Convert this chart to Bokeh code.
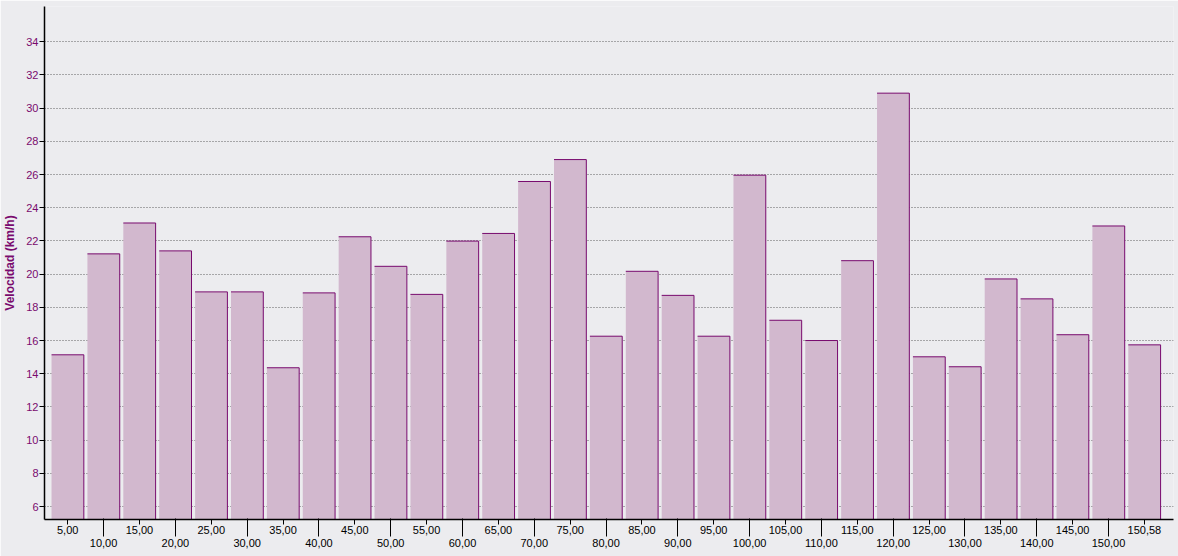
from bokeh.plotting import figure
from bokeh.models import FixedTicker, LinearAxis, Range1d
from bokeh.embed import file_html
from bokeh.resources import INLINE

# ---- data ----
distance_labels = ["5,00", "10,00", "15,00", "20,00", "25,00", "30,00", "35,00", "40,00",
                   "45,00", "50,00", "55,00", "60,00", "65,00", "70,00", "75,00", "80,00",
                   "85,00", "90,00", "95,00", "100,00", "105,00", "110,00", "115,00", "120,00",
                   "125,00", "130,00", "135,00", "140,00", "145,00", "150,00", "150,58"]
speeds = [15.14, 21.22, 23.08, 21.40, 18.93, 18.93, 14.36, 18.87,
          22.25, 20.47, 18.78, 21.99, 22.45, 25.58, 26.90, 16.26,
          20.17, 18.72, 16.26, 25.96, 17.22, 16.00, 20.81, 30.90,
          15.02, 14.42, 19.71, 18.51, 16.35, 22.90, 15.74]
y_ticks = [6, 8, 10, 12, 14, 16, 18, 20, 22, 24, 26, 28, 30, 32, 34]
y_label = "Velocidad (km/h)"

# ---- styling ----
BG = "#ECECEF"
FILL = "#D2B8CE"
EDGE = "#780A6E"
PURPLE = "#7A0A6E"
FONT = "Liberation Sans"

pos = list(range(1, len(speeds) + 1))
half = 0.45
Y0, Y1 = 5.22, 36.12
X0, X1 = 0.354, 31.81

p = figure(width=1178, height=556, output_backend="svg", toolbar_location=None,
           x_range=Range1d(X0, X1), y_range=Range1d(Y0, Y1),
           min_border_left=44, min_border_right=5, min_border_top=6, min_border_bottom=37)
p.background_fill_color = BG
p.border_fill_color = BG
p.outline_line_color = None

# bars: fill, then top and right edges
p.vbar(x=pos, top=speeds, bottom=0, width=2 * half, fill_color=FILL, line_color=None)
p.segment(x0=[x - half for x in pos], y0=speeds, x1=[x + half for x in pos], y1=speeds,
          line_color=EDGE, line_width=1)
p.segment(x0=[x + half for x in pos], y0=[0] * len(pos), x1=[x + half for x in pos], y1=speeds,
          line_color=EDGE, line_width=1)

# grid
p.xgrid.visible = False
p.ygrid.ticker = FixedTicker(ticks=y_ticks)
p.ygrid.grid_line_color = "#606060"
p.ygrid.grid_line_dash = "1 2"
p.ygrid.grid_line_width = 1

# y axis
ya = p.yaxis[0]
ya.ticker = FixedTicker(ticks=y_ticks)
ya.minor_tick_line_color = None
ya.major_tick_in = 0
ya.major_tick_out = 5
ya.major_tick_line_color = "black"
ya.axis_line_color = "black"
ya.axis_line_width = 1.5
ya.major_label_text_color = PURPLE
ya.major_label_text_font = FONT
ya.major_label_text_font_size = "11px"
ya.major_label_standoff = 1
ya.axis_label = y_label
ya.axis_label_text_color = PURPLE
ya.axis_label_text_font = FONT
ya.axis_label_text_font_size = "12px"
ya.axis_label_text_font_style = "bold"
ya.axis_label_standoff = 6

# x axis: upper row (odd positions, short ticks)
upper = [i for i in pos if i % 2 == 1]
lower = [i for i in pos if i % 2 == 0]
xa = p.xaxis[0]
xa.ticker = FixedTicker(ticks=upper)
xa.major_label_overrides = {i: distance_labels[i - 1] for i in upper}
xa.minor_tick_line_color = None
xa.major_tick_in = 0
xa.major_tick_out = 5
xa.major_label_standoff = 1
xa.major_label_text_font = FONT
xa.major_label_text_font_size = "11px"
xa.major_label_text_color = "black"
xa.axis_line_color = "black"
xa.axis_line_width = 1.5
xa.major_tick_line_color = "black"

# x axis: lower row (even positions, long ticks)
xb = LinearAxis(ticker=FixedTicker(ticks=lower),
                major_label_overrides={i: distance_labels[i - 1] for i in lower})
xb.axis_line_color = None
xb.minor_tick_line_color = None
xb.major_tick_in = 18
xb.major_tick_out = 0
xb.major_label_standoff = 2
xb.major_label_text_font = FONT
xb.major_label_text_font_size = "11px"
xb.major_label_text_color = "black"
xb.major_tick_line_color = "black"
p.add_layout(xb, "below")

open("out.html", "w").write(file_html(p, INLINE))
